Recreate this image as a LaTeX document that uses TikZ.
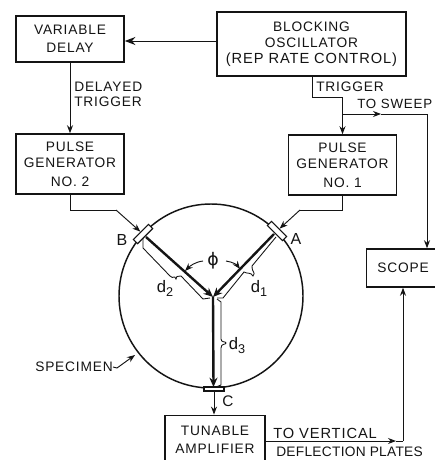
\documentclass[tikz,border=0pt]{standalone}
\usepackage{fontspec}
\setmainfont{Liberation Sans}[LetterSpace=6]
\newfontfamily\tightfont{Liberation Sans}[LetterSpace=2]
\newfontfamily\phifont{DejaVu Sans}
\usetikzlibrary{arrows.meta,calc}
\definecolor{ink}{HTML}{141414}
\newcommand{\fsz}[1]{\fontsize{#1}{12}\selectfont}
\newcommand{\dsub}[1]{d\raisebox{-3pt}{\fsz{9.5}#1}}
\tikzset{
  box/.style={draw=ink,line width=1.15pt,fill=white,rectangle,inner sep=0pt,align=center,text=ink,font=\fsz{10.3}},
  lab/.style={inner sep=0pt,text=ink,font=\fsz{10.3},align=left},
  wire/.style={draw=ink,line width=.7pt},
  arr/.style={wire,-{Stealth[length=6pt,width=4.5pt]}},
  bigarr/.style={wire,-{Stealth[length=8pt,width=6pt]}},
  rod/.style={draw=ink,line width=1.8pt,-{Stealth[length=7pt,width=6pt]}},
  thin line/.style={draw=ink,line width=.65pt},
  xdcr/.style={draw=ink,line width=.8pt,fill=white,rectangle,inner sep=0pt}
}
\begin{document}
\begin{tikzpicture}[x=.75pt,y=-.75pt]
\clip (0,0) rectangle (435,460);
\fill[white] (0,0) rectangle (435,460);
% boxes
\node[box,minimum width=81pt,minimum height=34.5pt] (vd) at (70,39) {VARIABLE\\[1.5pt]DELAY};
\node[box,minimum width=141.75pt,minimum height=48pt] (bo) at (311.5,44) {BLOCKING\\OSCILLATOR\\{\fsz{11}(REP RATE CONTROL)}};
\node[box,minimum width=81pt,minimum height=45pt] (pg2) at (70,164) {PULSE\\GENERATOR\\[2pt]NO. 2};
\node[box,minimum width=81pt,minimum height=45pt] (pg1) at (342.5,165) {PULSE\\GENERATOR\\[2pt]NO. 1};
\node[box,minimum width=55pt,minimum height=28.5pt] (scope) at (403,268) {SCOPE};
\node[box,minimum width=75pt,minimum height=37pt] (amp) at (215,440) {TUNABLE\\[1.5pt]AMPLIFIER};
% specimen
\node[circle,draw=ink,line width=1.1pt,minimum size=138pt,inner sep=0pt] (spec) at (211,296) {};
\coordinate (J) at (213,297);
\node[xdcr,minimum width=16pt,minimum height=4.5pt,rotate=45] (B) at (143,234) {};
\node[xdcr,minimum width=16pt,minimum height=4.5pt,rotate=-45] (A) at (277,231) {};
\node[xdcr,minimum width=15pt,minimum height=3pt] (C) at (214,389) {};
% rods
\draw[rod] (B.south) ++(.5,.5) -- (J);
\draw[rod] (A.south) ++(-.5,.5) -- (J);
\draw[rod] (J) -- (213.5,387);
% block connectors
\coordinate (boL) at (217,41);
\draw[bigarr] (boL) -- (vd.east |- boL);
\draw[arr] (vd.south) -- (pg2.north);
\coordinate (boS) at (312,76);
\coordinate (boK) at (312,97);
\coordinate (tap) at (342.5,114);
\coordinate (sweepMid) at (381,114);
\coordinate (sweepK) at (427,114);
\draw[wire] (bo.south -| boS) -- (boK) -- (boK -| pg1.north);
\draw[arr] (boK -| pg1.north) -- (pg1.north);
\draw[arr] (tap) -- (sweepMid);
\draw[wire] (sweepMid) -- (sweepK);
\draw[arr] (sweepK) -- (sweepK |- scope.north);
\coordinate (k2a) at (116,210);
\draw[wire] (pg2.south) -- (pg2.south |- k2a) -- (k2a);
\draw[arr] (k2a) -- (B);
\coordinate (k1a) at (300,210);
\draw[wire] (pg1.south) -- (pg1.south |- k1a) -- (k1a);
\draw[arr] (k1a) -- (A);
\draw[arr] (C.south) -- (C.south |- amp.north);
\coordinate (ampR) at (265,441);
\coordinate (outMid) at (396,441);
\coordinate (outK) at (403,441);
\draw[arr] (ampR) -- (outMid);
\draw[wire] (outMid) -- (outK);
\draw[arr] (outK) -- (outK |- scope.south);
% distance brackets
\draw[thin line] (143,238) -- (143,248) -- (170,276) .. controls (174,280) and (174,274) .. (176,279)
  .. controls (177,274) and (178,278) .. (181,276) -- (203,299) -- (210,298);
\draw[thin line] (276,237) -- (252,266) .. controls (252,273) and (256,272) .. (253,276)
  .. controls (251,272) and (247,274) .. (244,272) -- (223,298) -- (217,298);
\draw[thin line] (217,299) -- (221,302) -- (221,339) .. controls (221,343) and (226,341) .. (226,343)
  .. controls (226,345) and (221,343) .. (221,348) -- (221,385) -- (216,387);
% phi
\node[lab,font=\phifont\fontsize{13}{14}\selectfont] (phi) at (213,261) {ϕ};
\coordinate (phiL) at (185,271);
\coordinate (phiR) at (240,269);
\draw[arr,line width=.7pt] (203,261) .. controls (195,262) and (190,266) .. (phiL);
\draw[arr,line width=.7pt] (226,261) .. controls (233,262) and (237,265) .. (phiR);
% labels
\node[lab,anchor=west] (t1) at (74,87) {DELAYED};
\node[lab,anchor=west] (t2) at (74,102) {TRIGGER};
\node[lab,anchor=west] (t3) at (316,87) {TRIGGER};
\node[lab,anchor=west,font=\fsz{10}] (t4) at (357,104) {TO SWEEP};
\node[lab,font=\fsz{12}] (lB) at (122,240) {B};
\node[lab,font=\fsz{12}] (lA) at (296,239) {A};
\node[lab,font=\fsz{11.5}] (lC) at (228,401) {C};
\node[lab,font=\fsz{12.5}] (d2) at (165,288) {\dsub{2}};
\node[lab,font=\fsz{12.5}] (d1) at (259,288) {\dsub{1}};
\node[lab,font=\fsz{12.5}] (d3) at (237,346) {\dsub{3}};
\node[lab,anchor=west,font=\fsz{11}] (t5) at (273,433) {TO VERTICAL};
\node[lab,anchor=west,font=\tightfont\fsz{10.3}] (t6) at (276,452) {DEFLECTION PLATES};
\node[lab,anchor=west] (t7) at (35,367) {SPECIMEN};
\coordinate (sk) at (117,368);
\draw[wire] (t7.east) -- (sk);
\draw[arr] (sk) -- (135,355);
\end{tikzpicture}
\end{document}
